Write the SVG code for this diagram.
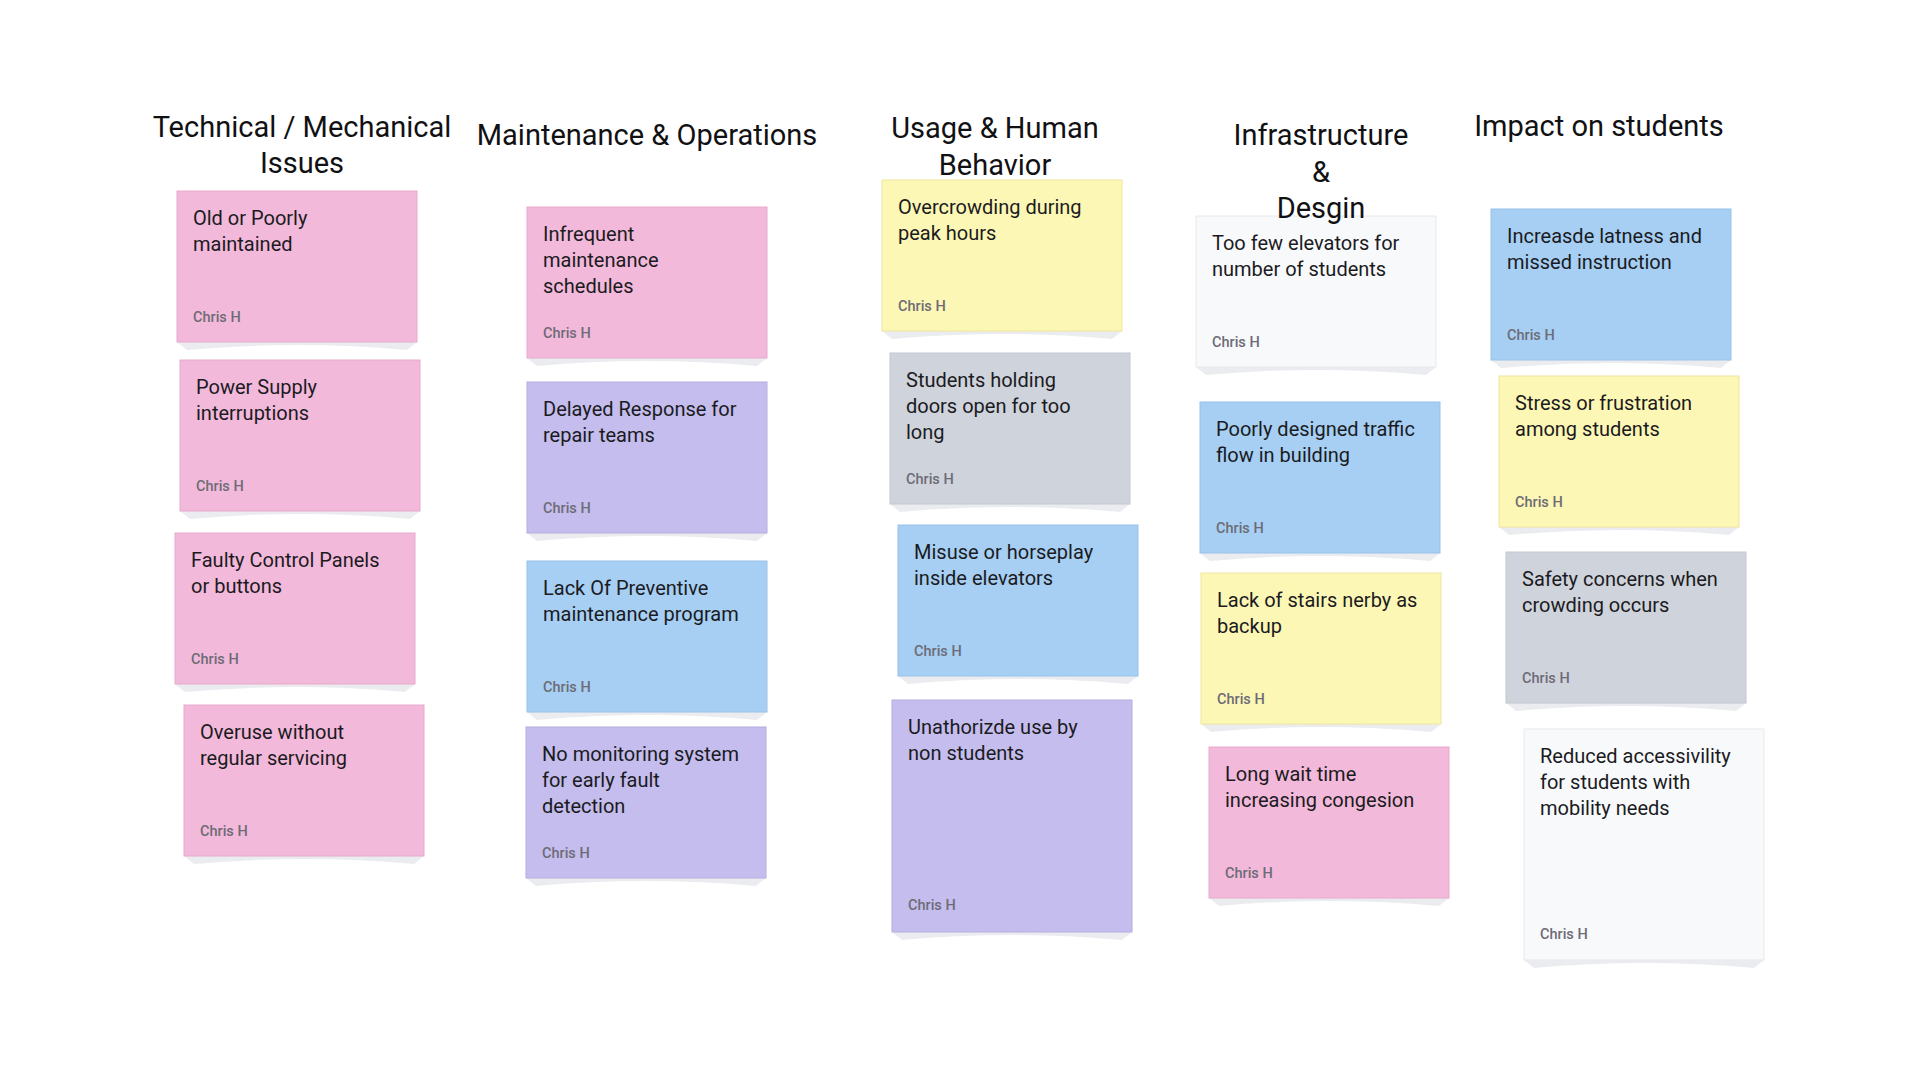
<svg xmlns="http://www.w3.org/2000/svg" xmlns:xlink="http://www.w3.org/1999/xlink" width="1920" height="1080" viewBox="0 0 1920 1080">
<style>
.title{font-family:Roboto,"Liberation Sans",sans-serif;font-size:29px;fill:#111114;text-anchor:middle}
.txt{font-family:Roboto,"Liberation Sans",sans-serif;font-size:20px;fill:#1b1b1f}
.auth{font-family:Roboto,"Liberation Sans",sans-serif;font-size:14.5px;font-weight:500;fill:#6d6c76}
.shadow{fill:#ebecef}
.pink{fill:#f3b9da;stroke:#e6a9cb;stroke-width:1}
.lav{fill:#c4bded;stroke:#b6aee0;stroke-width:1}
.blue{fill:#a6cff3;stroke:#98c2e9;stroke-width:1}
.yellow{fill:#fdf7b5;stroke:#efe69d;stroke-width:1}
.gray{fill:#cfd3db;stroke:#c3c7d0;stroke-width:1}
.white{fill:#f8f9fb;stroke:#e7e9ed;stroke-width:1}
</style>
<defs>
<path id="sh" class="shadow" d="M0,0 L10,8 Q120,-2 230,8 L240,0 Z"/>
</defs>
<rect width="1920" height="1080" fill="#ffffff"/>
<g id="connectors"></g>

<g id="note-old-or-poorly" transform="translate(177,191)">
<use xlink:href="#sh" y="151"/><rect class="pink" width="240" height="151"/>
<text class="txt" x="16" y="34">Old or Poorly</text><text class="txt" x="16" y="60">maintained</text>
<text class="auth" x="16" y="131">Chris H</text></g>

<g id="note-power-supply" transform="translate(180,360)">
<use xlink:href="#sh" y="151"/><rect class="pink" width="240" height="151"/>
<text class="txt" x="16" y="34">Power Supply</text><text class="txt" x="16" y="60">interruptions</text>
<text class="auth" x="16" y="131">Chris H</text></g>

<g id="note-faulty-control" transform="translate(175,533)">
<use xlink:href="#sh" y="151"/><rect class="pink" width="240" height="151"/>
<text class="txt" x="16" y="34">Faulty Control Panels</text><text class="txt" x="16" y="60">or buttons</text>
<text class="auth" x="16" y="131">Chris H</text></g>

<g id="note-overuse" transform="translate(184,705)">
<use xlink:href="#sh" y="151"/><rect class="pink" width="240" height="151"/>
<text class="txt" x="16" y="34">Overuse without</text><text class="txt" x="16" y="60">regular servicing</text>
<text class="auth" x="16" y="131">Chris H</text></g>

<g id="note-infrequent" transform="translate(527,207)">
<use xlink:href="#sh" y="151"/><rect class="pink" width="240" height="151"/>
<text class="txt" x="16" y="34">Infrequent</text><text class="txt" x="16" y="60">maintenance</text><text class="txt" x="16" y="86">schedules</text>
<text class="auth" x="16" y="131">Chris H</text></g>

<g id="note-delayed" transform="translate(527,382)">
<use xlink:href="#sh" y="151"/><rect class="lav" width="240" height="151"/>
<text class="txt" x="16" y="34">Delayed Response for</text><text class="txt" x="16" y="60">repair teams</text>
<text class="auth" x="16" y="131">Chris H</text></g>

<g id="note-lack-preventive" transform="translate(527,561)">
<use xlink:href="#sh" y="151"/><rect class="blue" width="240" height="151"/>
<text class="txt" x="16" y="34">Lack Of Preventive</text><text class="txt" x="16" y="60">maintenance program</text>
<text class="auth" x="16" y="131">Chris H</text></g>

<g id="note-no-monitoring" transform="translate(526,727)">
<use xlink:href="#sh" y="151"/><rect class="lav" width="240" height="151"/>
<text class="txt" x="16" y="34">No monitoring system</text><text class="txt" x="16" y="60">for early fault</text><text class="txt" x="16" y="86">detection</text>
<text class="auth" x="16" y="131">Chris H</text></g>

<g id="note-overcrowding" transform="translate(882,180)">
<use xlink:href="#sh" y="151"/><rect class="yellow" width="240" height="151"/>
<text class="txt" x="16" y="34">Overcrowding during</text><text class="txt" x="16" y="60">peak hours</text>
<text class="auth" x="16" y="131">Chris H</text></g>

<g id="note-holding-doors" transform="translate(890,353)">
<use xlink:href="#sh" y="151"/><rect class="gray" width="240" height="151"/>
<text class="txt" x="16" y="34">Students holding</text><text class="txt" x="16" y="60">doors open for too</text><text class="txt" x="16" y="86">long</text>
<text class="auth" x="16" y="131">Chris H</text></g>

<g id="note-misuse" transform="translate(898,525)">
<use xlink:href="#sh" y="151"/><rect class="blue" width="240" height="151"/>
<text class="txt" x="16" y="34">Misuse or horseplay</text><text class="txt" x="16" y="60">inside elevators</text>
<text class="auth" x="16" y="131">Chris H</text></g>

<g id="note-unauthorized" transform="translate(892,700)">
<use xlink:href="#sh" y="232"/><rect class="lav" width="240" height="232"/>
<text class="txt" x="16" y="34">Unathorizde use by</text><text class="txt" x="16" y="60">non students</text>
<text class="auth" x="16" y="210">Chris H</text></g>

<g id="note-too-few" transform="translate(1196,216)">
<use xlink:href="#sh" y="151"/><rect class="white" width="240" height="151"/>
<text class="txt" x="16" y="34">Too few elevators for</text><text class="txt" x="16" y="60">number of students</text>
<text class="auth" x="16" y="131">Chris H</text></g>

<g id="note-traffic-flow" transform="translate(1200,402)">
<use xlink:href="#sh" y="151"/><rect class="blue" width="240" height="151"/>
<text class="txt" x="16" y="34">Poorly designed traffic</text><text class="txt" x="16" y="60">flow in building</text>
<text class="auth" x="16" y="131">Chris H</text></g>

<g id="note-stairs" transform="translate(1201,573)">
<use xlink:href="#sh" y="151"/><rect class="yellow" width="240" height="151"/>
<text class="txt" x="16" y="34">Lack of stairs nerby as</text><text class="txt" x="16" y="60">backup</text>
<text class="auth" x="16" y="131">Chris H</text></g>

<g id="note-long-wait" transform="translate(1209,747)">
<use xlink:href="#sh" y="151"/><rect class="pink" width="240" height="151"/>
<text class="txt" x="16" y="34">Long wait time</text><text class="txt" x="16" y="60">increasing congesion</text>
<text class="auth" x="16" y="131">Chris H</text></g>

<g id="note-lateness" transform="translate(1491,209)">
<use xlink:href="#sh" y="151"/><rect class="blue" width="240" height="151"/>
<text class="txt" x="16" y="34">Increasde latness and</text><text class="txt" x="16" y="60">missed instruction</text>
<text class="auth" x="16" y="131">Chris H</text></g>

<g id="note-stress" transform="translate(1499,376)">
<use xlink:href="#sh" y="151"/><rect class="yellow" width="240" height="151"/>
<text class="txt" x="16" y="34">Stress or frustration</text><text class="txt" x="16" y="60">among students</text>
<text class="auth" x="16" y="131">Chris H</text></g>

<g id="note-safety" transform="translate(1506,552)">
<use xlink:href="#sh" y="151"/><rect class="gray" width="240" height="151"/>
<text class="txt" x="16" y="34">Safety concerns when</text><text class="txt" x="16" y="60">crowding occurs</text>
<text class="auth" x="16" y="131">Chris H</text></g>

<g id="note-accessibility" transform="translate(1524,729)">
<use xlink:href="#sh" y="231"/><rect class="white" width="240" height="231"/>
<text class="txt" x="16" y="34">Reduced accessivility</text><text class="txt" x="16" y="60">for students with</text><text class="txt" x="16" y="86">mobility needs</text>
<text class="auth" x="16" y="210">Chris H</text></g>

<g id="title-technical">
<text class="title" x="302" y="137">Technical / Mechanical</text>
<text class="title" x="302" y="173">Issues</text></g>
<g id="title-maintenance">
<text class="title" x="647" y="145">Maintenance &amp; Operations</text></g>
<g id="title-usage">
<text class="title" x="995" y="138">Usage &amp; Human</text>
<text class="title" x="995" y="175">Behavior</text></g>
<g id="title-infrastructure">
<text class="title" x="1321" y="145">Infrastructure</text>
<text class="title" x="1321" y="182">&amp;</text>
<text class="title" x="1321" y="218">Desgin</text></g>
<g id="title-impact">
<text class="title" x="1599" y="136">Impact on students</text></g>
</svg>
